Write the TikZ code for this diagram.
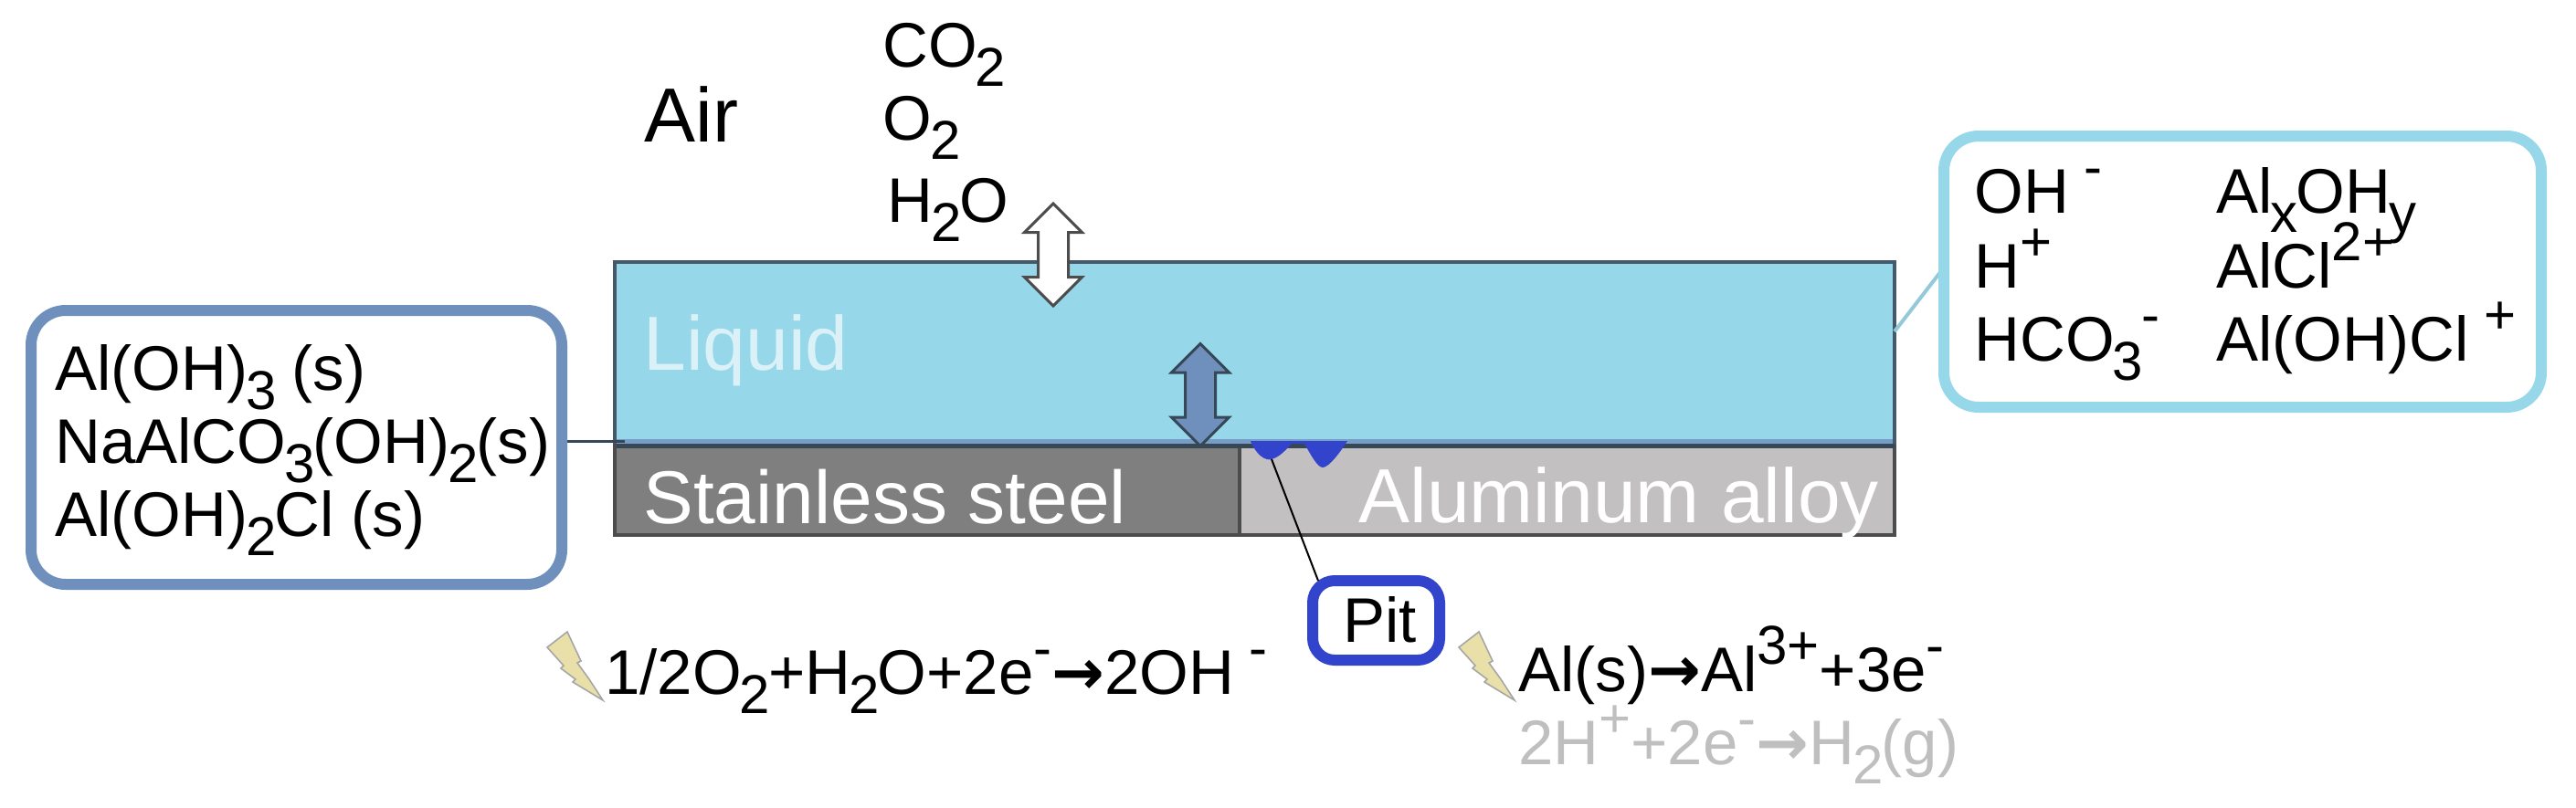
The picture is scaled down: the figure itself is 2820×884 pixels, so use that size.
\documentclass[tikz,border=0pt]{standalone}
\usepackage{fontspec}
\setmainfont{Liberation Sans}
\newfontfamily\arrowfont{DejaVu Sans}
\usetikzlibrary{shapes.arrows}
\definecolor{liquidblue}{HTML}{97D7EA}
\definecolor{oxideblue}{HTML}{6F8FBD}
\definecolor{pitblue}{HTML}{3344CC}
\definecolor{steelgray}{HTML}{7F7F7F}
\definecolor{alloygray}{HTML}{C2C0C0}
\definecolor{edgedark}{HTML}{44596A}
\definecolor{faintgray}{HTML}{BFBFBF}
\definecolor{boltfill}{HTML}{E8E0A8}
\def\dn#1{\kern-1pt\raisebox{-10.5pt}{\fontsize{30}{32}\selectfont #1}\kern-1pt\relax}
\def\up#1{\raisebox{15pt}{\fontsize{30}{32}\selectfont #1}}
\def\yields{{\arrowfont\bfseries →}}
\tikzset{
	chem/.style={inner sep=0pt, anchor=base west, font=\fontsize{34.5}{41}\selectfont},
	bigchem/.style={chem, font=\fontsize{42}{50}\selectfont},
	layer/.style={draw=edgedark, line width=2pt, inner sep=0pt, outer sep=0pt},
	callout/.style={draw=#1, fill=white, line width=6pt, inner sep=0pt, outer sep=0pt, rounded corners=19pt},
	flux/.style={double arrow, rotate=90, inner xsep=0pt, inner ysep=7.5pt, minimum height=56pt, minimum width=30pt,
		double arrow head extend=7.5pt, line width=1.5pt},
	bolt/.style={draw=gray!70, fill=boltfill, line width=.8pt}
}
\def\spark#1{\draw[bolt, shift={#1}] (22,0) -- (37,32) -- (33,34) -- (46,52) -- (61,75) -- (28,55) -- (31,52)
	-- (15,40) -- (18,37) -- (0,17) -- cycle;}
\begin{document}
\begin{tikzpicture}[x=0.5pt,y=-0.5pt]
	\useasboundingbox (0,0) rectangle (2820,884);

	\node[layer, fill=liquidblue, minimum width=700.5pt, minimum height=100.5pt] (liquid) at (1373.5,387.5) {};
	\node[layer, draw=black!70, fill=steelgray, minimum width=342pt, minimum height=49pt] (steel) at (1015,537) {};
	\node[layer, draw=black!70, fill=alloygray, minimum width=358.5pt, minimum height=49pt] (alloy) at (1715.5,537) {};
	\draw[oxideblue!80!liquidblue, line width=2.5pt] (675,483) -- (2072,483);
	\draw[edgedark!80!black, line width=2.5pt] (675,488.5) -- (2074,488.5);

	\fill[pitblue] (1369,483) .. controls (1375,498) and (1385,505) .. (1392,503) .. controls (1402,500) and (1408,492) .. (1414,486)
		-- (1428,486) .. controls (1435,498) and (1442,512) .. (1448,512) .. controls (1455,512) and (1468,494) .. (1475,483) -- cycle;

	\node[flux, draw=black!70, fill=white] (airflux) at (1153,279) {};
	\node[flux, draw=edgedark!80!black, fill=oxideblue] (surfflux) at (1314,432.5) {};

	\coordinate (leftfoot) at (684,483);
	\coordinate (iontap) at (2074,363);
	\coordinate (ionend) at (2128,293);
	\coordinate (pitdeep) at (1392,503);
	\draw[edgedark!80!black, line width=1.5pt] (34,483) -- (leftfoot);
	\draw[liquidblue!85!gray, line width=2pt] (iontap) -- (ionend);

	\node[callout=oxideblue, minimum width=290.5pt, minimum height=150pt] (solids) at (324.5,490) {};
	\node[callout=liquidblue, minimum width=327pt, minimum height=148.5pt] (ions) at (2455,297.5) {};
	\node[callout=pitblue, rounded corners=12pt, minimum width=69.5pt, minimum height=43.5pt] (pitbox) at (1506.5,679.5) {};
	\draw[black, line width=1pt] (pitdeep) -- ([xshift=3pt]pitbox.north west);

	\node[bigchem] (air) at (705,155) {Air};
	\node[chem] (co2) at (966,73) {CO\dn{2}};
	\node[chem] (o2) at (966,153) {O\dn{2}};
	\node[chem] (h2o) at (971,243) {H\dn{2}O};

	\node[bigchem, text=liquidblue!35!white] (liquidlabel) at (704,405) {Liquid};
	\node[bigchem, font=\fontsize{41}{50}\selectfont, text=white] (steellabel) at (704,573) {Stainless steel};
	\node[bigchem, text=white] (alloylabel) at (1487,572) {Aluminum alloy};

	\node[chem] (solida) at (60,427) {Al(OH)\dn{3} (s)};
	\node[chem] (solidb) at (60,507) {NaAlCO\dn{3}(OH)\dn{2}(s)};
	\node[chem] (solidc) at (60,587) {Al(OH)\dn{2}Cl (s)};

	\node[chem] (iona) at (2161,233) {OH\up{ -}};
	\node[chem] (ionb) at (2161,315) {H\up{+}};
	\node[chem] (ionc) at (2161,395) {HCO\dn{3}\up{-}};
	\node[chem] (iond) at (2426,233) {Al\dn{x}OH\dn{y}};
	\node[chem] (ione) at (2426,315) {AlCl\up{2+}};
	\node[chem] (ionf) at (2426,395) {Al(OH)Cl\up{ +}};

	\node[chem] (pitlabel) at (1470,703) {Pit};

	\spark{(599,692)}
	\spark{(1597,692)}
	\node[chem] (cathode) at (662,760) {1/2O\dn{2}+H\dn{2}O+2e\up{-}\yields 2OH\up{ -}};
	\node[chem] (anode) at (1662,757) {Al(s)\yields Al\up{3+}+3e\up{-}};
	\node[chem, text=faintgray] (hydrogen) at (1662,837) {2H\up{+}+2e\up{-}\yields H\dn{2}(g)};
\end{tikzpicture}
\end{document}
